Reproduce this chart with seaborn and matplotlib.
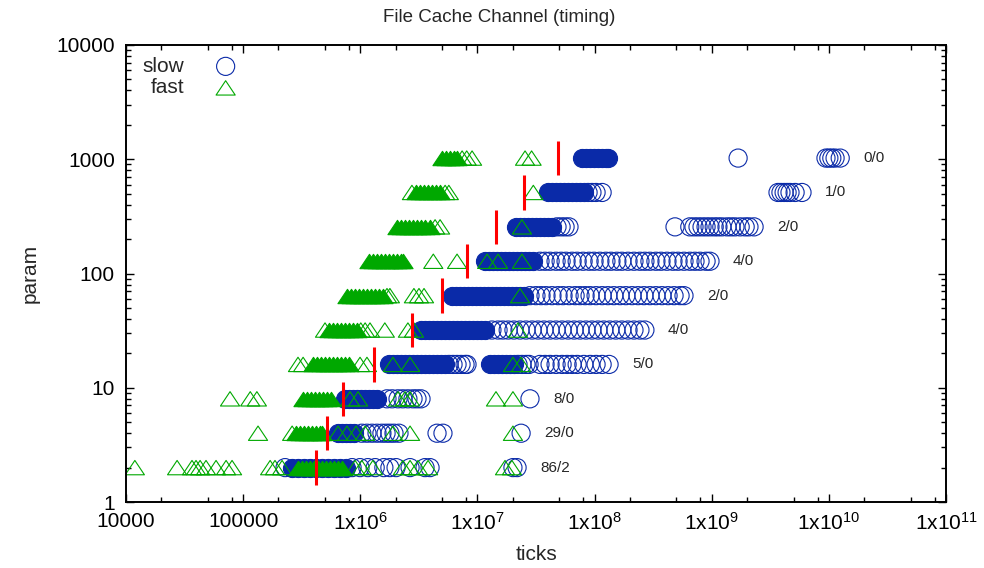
import numpy as np
import pandas as pd
import matplotlib
matplotlib.use("Agg")
import matplotlib.pyplot as plt
from matplotlib.path import Path
from matplotlib.ticker import LogLocator, FixedLocator, FuncFormatter, NullFormatter
import seaborn as sns

# one row per "param" value
params = [1024, 512, 256, 128, 64, 32, 16, 8, 4, 2]

# slow runs: tightly packed part (looks solid) and the scattered part
slow_dense = [
    [7.8e7, 8.5e7, 9.2e7, 9.9e7, 1.07e8, 1.16e8, 1.25e8, 1.30e8],
    [4.0e7, 4.3e7, 4.7e7, 5.1e7, 5.5e7, 5.9e7, 6.4e7, 6.95e7, 7.5e7, 8.1e7],
    [2.13e7, 2.31e7, 2.5e7, 2.7e7, 2.93e7, 3.17e7, 3.43e7, 3.71e7, 4.0e7, 4.33e7],
    [1.16e7, 1.26e7, 1.36e7, 1.47e7, 1.59e7, 1.72e7, 1.86e7, 2.01e7, 2.18e7,
     2.36e7, 2.55e7, 2.76e7, 2.98e7],
    [6.07e6, 6.56e6, 7.1e6, 7.67e6, 8.3e6, 8.98e6, 9.7e6, 1.05e7, 1.14e7, 1.23e7,
     1.33e7, 1.44e7, 1.56e7, 1.69e7, 1.83e7, 1.97e7, 2.14e7, 2.31e7, 2.5e7],
    [3.3e6, 3.57e6, 3.86e6, 4.18e6, 4.52e6, 4.89e6, 5.29e6, 5.72e6, 6.19e6, 6.7e6,
     7.25e6, 7.84e6, 8.48e6, 9.17e6, 9.92e6, 1.07e7, 1.16e7],
    [1.76e6, 1.9e6, 2.06e6, 2.23e6, 2.41e6, 2.6e6, 2.82e6, 3.05e6, 3.3e6, 3.57e6,
     3.86e6, 4.18e6, 4.52e6, 4.89e6, 5.29e6,
     1.28e7, 1.39e7, 1.5e7, 1.62e7, 1.75e7, 1.9e7, 2.05e7],
    [7.42e5, 8.03e5, 8.69e5, 9.4e5, 1.01e6, 1.1e6, 1.19e6, 1.28e6, 1.39e6],
    [6.46e5, 6.98e5, 7.56e5, 8.17e5, 8.85e5],
    [2.62e5, 2.94e5, 3.31e5, 3.73e5, 4.19e5, 4.72e5, 5.31e5, 5.98e5, 6.72e5, 7.56e5],
]
slow_open = [
    [1.68e9, 9.45e9, 1.0e10, 1.06e10, 1.13e10, 1.25e10],
    [8.8e7, 9.5e7, 1.03e8, 1.16e8, 3.68e9, 3.9e9, 4.15e9, 4.4e9, 4.66e9, 5.15e9, 5.9e9],
    [4.78e7, 5.18e7, 5.6e7, 6.05e7, 4.86e8, 6.5e8, 7.06e8, 7.64e8, 8.27e8, 8.95e8,
     9.67e8, 1.05e9, 1.13e9, 1.22e9, 1.35e9, 1.46e9, 1.58e9, 1.75e9, 1.93e9, 2.08e9, 2.3e9],
    [3.42e7, 3.78e7, 4.17e7, 4.69e7, 5.18e7, 5.71e7, 6.43e7, 7.1e7, 7.98e7, 8.98e7,
     9.9e7, 1.11e8, 1.25e8, 1.38e8, 1.55e8, 1.71e8, 1.93e8, 2.17e8, 2.44e8, 2.69e8,
     2.97e8, 3.34e8, 3.69e8, 4.15e8, 4.67e8, 5.16e8, 5.8e8, 6.52e8, 7.2e8, 7.95e8,
     8.95e8, 9.67e8],
    [2.81e7, 3.16e7, 3.49e7, 3.85e7, 4.33e7, 4.88e7, 5.38e7, 6.06e7, 6.82e7, 7.51e7,
     8.3e7, 9.15e7, 1.03e8, 1.16e8, 1.3e8, 1.46e8, 1.65e8, 1.85e8, 2.09e8, 2.35e8,
     2.64e8, 2.97e8, 3.34e8, 3.76e8, 4.24e8, 4.77e8, 5.37e8, 5.8e8],
    [1.33e7, 1.5e7, 1.65e7, 1.83e7, 2.05e7, 2.31e7, 2.6e7, 2.93e7, 3.29e7, 3.7e7,
     4.17e7, 4.69e7, 5.28e7, 5.94e7, 6.69e7, 7.51e7, 8.45e7, 9.5e7, 1.07e8, 1.2e8,
     1.35e8, 1.52e8, 1.71e8, 1.93e8, 2.17e8, 2.44e8, 2.69e8],
    [5.72e6, 6.19e6, 6.7e6, 7.25e6, 7.84e6, 8.15e6, 2.22e7, 2.4e7, 2.6e7, 2.76e7,
     3.42e7, 3.78e7, 4.17e7, 4.69e7, 5.28e7, 5.83e7, 6.43e7, 7.1e7, 8.1e7, 9.2e7,
     1.03e8, 1.16e8, 1.33e8],
    [1.69e6, 1.87e6, 2.1e6, 2.31e6, 2.55e6, 2.82e6, 3.05e6, 3.3e6, 2.81e7],
    [1.03e6, 1.14e6, 1.26e6, 1.39e6, 1.53e6, 1.66e6, 1.79e6, 1.94e6, 2.14e6,
     4.52e6, 5.08e6, 2.36e7],
    [2.28e5, 8.51e5, 9.95e5, 1.16e6, 1.34e6, 1.59e6, 1.79e6, 2.02e6, 2.66e6,
     3.57e6, 3.94e6, 2.01e7, 2.18e7],
]

# fast runs
fast_dense = [
    [5.0e6, 5.4e6, 5.85e6, 6.3e6, 6.7e6],
    [2.98e6, 3.23e6, 3.5e6, 3.79e6, 4.1e6, 4.44e6, 4.8e6],
    [2.06e6, 2.23e6, 2.41e6, 2.61e6, 2.82e6, 3.05e6, 3.3e6, 3.57e6, 3.94e6],
    [1.19e6, 1.28e6, 1.39e6, 1.5e6, 1.62e6, 1.76e6, 1.9e6, 2.06e6, 2.23e6, 2.31e6],
    [7.7e5, 8.35e5, 9.03e5, 9.77e5, 1.05e6, 1.14e6, 1.23e6, 1.34e6, 1.44e6, 1.56e6],
    [5.42e5, 5.86e5, 6.34e5, 6.86e5, 7.42e5, 8.03e5, 8.69e5, 9.4e5],
    [3.95e5, 4.28e5, 4.63e5, 5.0e5, 5.42e5, 5.86e5, 6.34e5, 6.86e5, 7.42e5, 8.03e5],
    [3.25e5, 3.51e5, 3.8e5, 4.11e5, 4.45e5, 4.81e5, 5.2e5, 5.63e5],
    [2.83e5, 3.06e5, 3.31e5, 3.58e5, 3.88e5, 4.19e5, 4.54e5, 4.72e5],
    [2.94e5, 3.19e5, 3.45e5, 3.73e5, 4.04e5, 4.37e5, 4.72e5, 5.11e5, 5.53e5,
     5.98e5, 6.46e5, 6.98e5],
]
fast_open = [
    [7.4e6, 8.1e6, 9.0e6, 2.55e7, 2.9e7],
    [2.76e6, 5.3e6, 5.7e6, 3.0e7],
    [4.35e6, 4.8e6, 2.4e7],
    [4.2e6, 6.7e6, 1.21e7, 1.5e7, 2.4e7],
    [1.69e6, 1.79e6, 2.87e6, 3.17e6, 3.5e6, 2.31e7],
    [5.0e5, 1.01e6, 1.1e6, 1.21e6, 1.62e6, 2.55e6, 2.87e6, 2.22e7],
    [2.94e5, 3.25e5, 9.95e5, 1.14e6, 1.9e6, 2.66e6, 2.01e7, 2.36e7],
    [7.73e4, 1.15e5, 1.31e5, 8.17e5, 9.57e5, 2.1e6, 2.41e6, 2.66e6, 1.44e7, 2.01e7],
    [1.34e5, 2.62e5, 6.46e5, 7.7e5, 9.2e5, 1.1e6, 1.9e6, 2.66e6, 2.01e7],
    [1.19e4, 2.73e4, 3.66e4, 3.96e4, 4.29e4, 4.82e4, 5.87e4, 7.15e4, 8.04e4,
     1.7e5, 1.87e5, 2.15e5, 9.03e5, 1.03e6, 1.28e6, 2.31e6, 2.66e6, 3.11e6,
     3.79e6, 1.72e7, 1.97e7],
]

thresholds = [4.9e7, 2.5e7, 1.45e7, 8.1e6, 5.0e6, 2.75e6, 1.3e6, 7.1e5, 5.2e5, 4.2e5]
error_labels = ["0/0", "1/0", "2/0", "4/0", "2/0", "4/0", "5/0", "8/0", "29/0", "86/2"]

x_ticks = [1e4, 1e5, 1e6, 1e7, 1e8, 1e9, 1e10, 1e11]
y_ticks = [1, 10, 100, 1000, 10000]

BLUE = "#0a2aa8"
GREEN = "#00a800"
CIRC_S = 170
TRI_S = 190

recs = []
for kind, groups, solid in [("slow", slow_dense, True), ("slow", slow_open, False),
                            ("fast", fast_dense, True), ("fast", fast_open, False)]:
    for p, xs in zip(params, groups):
        for x in xs:
            recs.append({"ticks": x, "param": p, "kind": kind, "solid": solid})
df = pd.DataFrame(recs)

sns.set_theme(style="ticks")
plt.rcParams["font.family"] = ["Liberation Sans", "DejaVu Sans"]
plt.rcParams["mathtext.fontset"] = "custom"
plt.rcParams["mathtext.rm"] = "Liberation Sans"
plt.rcParams["mathtext.default"] = "regular"

# gnuplot-like flat triangle
tri = Path([(-1, -0.75), (1, -0.75), (0, 0.75), (-1, -0.75)],
           [Path.MOVETO, Path.LINETO, Path.LINETO, Path.CLOSEPOLY])

fig = plt.figure(figsize=(9.84, 5.68), dpi=100)
ax = fig.add_axes([126 / 984, 1 - 502 / 568, 820 / 984, 457 / 568])

sel = (df.kind == "slow") & df.solid
sns.scatterplot(data=df[sel], x="ticks", y="param", marker="o", s=CIRC_S,
                color=BLUE, edgecolor=BLUE, linewidth=0.8, ax=ax, legend=False)
sel = (df.kind == "slow") & ~df.solid
sns.scatterplot(data=df[sel], x="ticks", y="param", marker="o", s=CIRC_S,
                color=BLUE, facecolor="none", edgecolor=BLUE, linewidth=0.8,
                ax=ax, legend=False, label="slow")
sel = (df.kind == "fast") & df.solid
sns.scatterplot(data=df[sel], x="ticks", y="param", marker=tri, s=TRI_S,
                color=GREEN, edgecolor=GREEN, linewidth=0.8, ax=ax, legend=False)
sel = (df.kind == "fast") & ~df.solid
sns.scatterplot(data=df[sel], x="ticks", y="param", marker=tri, s=TRI_S,
                color=GREEN, facecolor="none", edgecolor=GREEN, linewidth=0.8,
                ax=ax, legend=False, label="fast")

# threshold marks
p_arr = np.array(params, dtype=float)
ax.vlines(thresholds, p_arr / np.sqrt(2), p_arr * np.sqrt(2), color="red",
          linewidth=2.2, zorder=5)

# error counts to the right of each row
for p, lab, a, b in zip(params, error_labels, slow_dense, slow_open):
    ax.annotate(lab, xy=(max(a + b), p), xytext=(16.5, 0), textcoords="offset points",
                va="center", ha="left", fontsize=11)

ax.set_xscale("log")
ax.set_yscale("log")
ax.set_xlim(x_ticks[0], x_ticks[-1])
ax.set_ylim(y_ticks[0], y_ticks[-1])

ax.xaxis.set_major_locator(FixedLocator(x_ticks))
ax.xaxis.set_minor_locator(LogLocator(base=10, subs=(2, 5, 8), numticks=20))
ax.xaxis.set_minor_formatter(NullFormatter())
ax.yaxis.set_major_locator(FixedLocator(y_ticks))
ax.yaxis.set_minor_locator(LogLocator(base=10, subs=range(2, 10), numticks=20))
ax.yaxis.set_minor_formatter(NullFormatter())


def xfmt(v, pos):
    e = int(round(np.log10(v)))
    if e < 6:
        return str(int(round(v)))
    return r"1x10$^{%d}$" % e


ax.xaxis.set_major_formatter(FuncFormatter(xfmt))
ax.yaxis.set_major_formatter(FuncFormatter(lambda v, pos: str(int(round(v)))))

ax.tick_params(which="both", direction="in", top=True, right=True, width=1, colors="black")
ax.tick_params(which="major", length=6, labelsize=15)
ax.tick_params(which="minor", length=3.5)
ax.tick_params(axis="x", which="major", pad=7)
ax.tick_params(axis="y", which="major", pad=8)
for sp in ax.spines.values():
    sp.set_visible(True)
    sp.set_linewidth(1.4)
    sp.set_color("black")

ax.set_xlabel("ticks", fontsize=15)
ax.set_ylabel("param", fontsize=15)
ax.xaxis.set_label_coords(0.5, -0.095)
ax.yaxis.set_label_coords(-0.105, 0.5)

fig.text(499 / 984, 1 - 17 / 568, "File Cache Channel (timing)", ha="center",
         va="center", fontsize=13.5)

ax.legend(loc="upper left", bbox_to_anchor=(0.002, 1.006), frameon=False,
          markerfirst=False, fontsize=15, handletextpad=1.4, labelspacing=0.12,
          borderpad=0.2, handlelength=1.2)

fig.savefig("out.png", dpi=100)
